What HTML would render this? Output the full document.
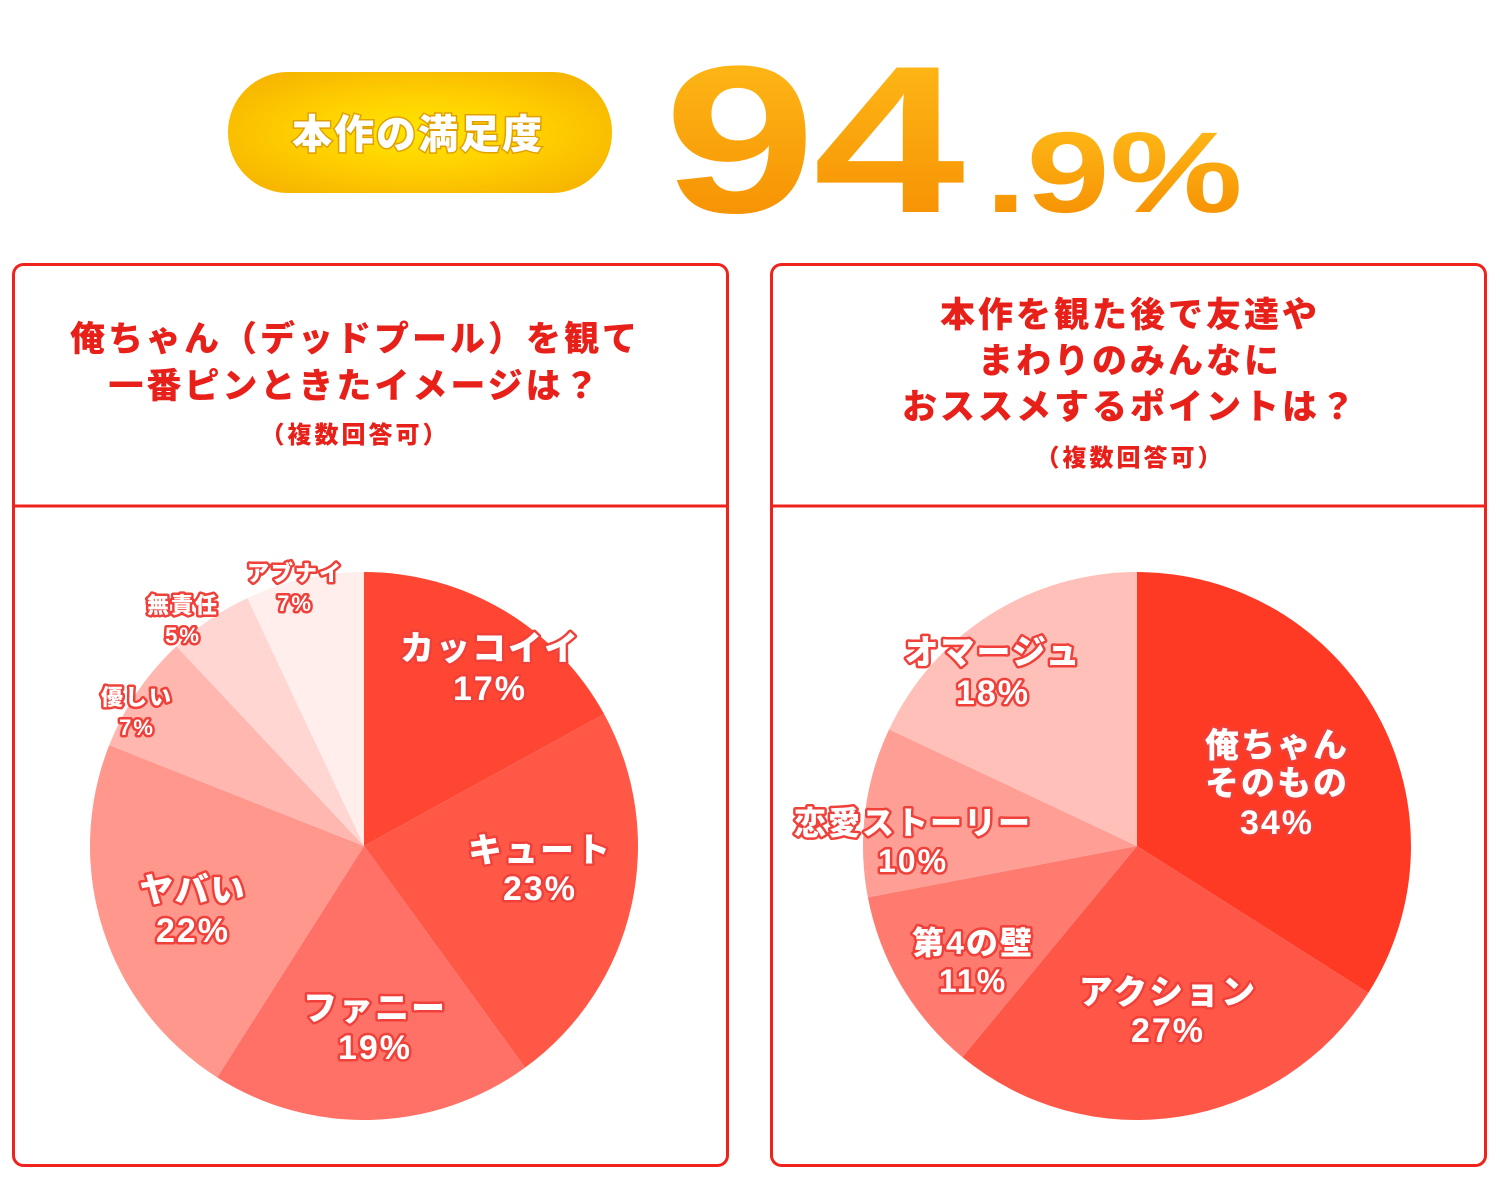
<!DOCTYPE html>
<html><head><meta charset="utf-8"><style>
html,body{margin:0;padding:0;background:#fff;width:1500px;height:1200px;overflow:hidden}
svg{display:block}
text{font-family:"Liberation Sans","Noto Sans CJK JP",sans-serif;font-weight:900}
</style></head><body>
<svg id="s" width="1500" height="1200" xmlns="http://www.w3.org/2000/svg">
<defs>
<radialGradient id="pill" cx="0.5" cy="0.5" r="0.6">
<stop offset="0" stop-color="#ffe600"/><stop offset="0.5" stop-color="#ffd000"/><stop offset="1" stop-color="#f7b600"/></radialGradient>
<linearGradient id="og" x1="0" y1="0" x2="0" y2="1">
<stop offset="0" stop-color="#ffbf1a"/><stop offset="1" stop-color="#f58a00"/></linearGradient>
</defs>
<rect x="228" y="72" width="384" height="121" rx="60" fill="url(#pill)"/>
<text x="418" y="148" font-size="40" text-anchor="middle" fill="#fff" stroke="#e0a000" stroke-width="3" paint-order="stroke" letter-spacing="2">本作の満足度</text>
<text transform="translate(664,212) scale(1.3,1)" font-size="210" fill="url(#og)" letter-spacing="-2">94</text>
<text transform="translate(985,212) scale(1.3,1)" font-size="115" fill="url(#og)">.9%</text>

<rect x="13.5" y="264.5" width="714" height="901" rx="10" fill="#fff" stroke="#f0231c" stroke-width="3"/>
<rect x="771.5" y="264.5" width="714" height="901" rx="10" fill="#fff" stroke="#f0231c" stroke-width="3"/>
<line x1="13" y1="506" x2="728" y2="506" stroke="#f0231c" stroke-width="3"/>
<line x1="771" y1="506" x2="1486" y2="506" stroke="#f0231c" stroke-width="3"/>

<g fill="#e8201a" text-anchor="middle" letter-spacing="3">
<text x="355" y="351" font-size="35">俺ちゃん（デッドプール）を観て</text>
<text x="355" y="398" font-size="35">一番ピンときたイメージは？</text>
<text x="355" y="443" font-size="24">（複数回答可）</text>
<text x="1130" y="327" font-size="35">本作を観た後で友達や</text>
<text x="1130" y="373" font-size="35">まわりのみんなに</text>
<text x="1130" y="419" font-size="35">おススメするポイントは？</text>
<text x="1130" y="466" font-size="24">（複数回答可）</text>
</g>
<g id="pies"></g>
<g id="labels" fill="#fff" stroke="#f0403a" stroke-width="5" stroke-linejoin="round" paint-order="stroke" text-anchor="middle" letter-spacing="2">
<text x="490" y="660" font-size="34">カッコイイ</text><text x="490" y="700" font-size="34">17%</text>
<text x="540" y="862" font-size="34">キュート</text><text x="540" y="900" font-size="34">23%</text>
<text x="375" y="1020" font-size="34">ファニー</text><text x="375" y="1059" font-size="34">19%</text>
<text x="193" y="902" font-size="34">ヤバい</text><text x="193" y="942" font-size="34">22%</text>
<text x="137" y="705" font-size="22">優しい</text><text x="137" y="735" font-size="22">7%</text>
<text x="183" y="613" font-size="22">無責任</text><text x="183" y="643" font-size="22">5%</text>
<text x="295" y="581" font-size="22">アブナイ</text><text x="295" y="611" font-size="22">7%</text>
<text x="1277" y="757" font-size="34">俺ちゃん</text><text x="1277" y="795" font-size="34">そのもの</text><text x="1277" y="834" font-size="34">34%</text>
<text x="1168" y="1004" font-size="34">アクション</text><text x="1168" y="1042" font-size="34">27%</text>
<text x="973" y="954" font-size="32">第4の壁</text><text x="973" y="992" font-size="32">11%</text>
<text x="913" y="834" font-size="32">恋愛ストーリー</text><text x="913" y="872" font-size="32">10%</text>
<text x="993" y="664" font-size="34">オマージュ</text><text x="993" y="704" font-size="34">18%</text>
</g>
</svg>
<script>
function pie(cx,cy,r,vals,cols){
 var g=document.getElementById('pies'),a=0,tot=vals.reduce(function(x,y){return x+y},0),out='';
 for(var i=0;i<vals.length;i++){
  var a2=a+vals[i]/tot*2*Math.PI;
  var x1=cx+r*Math.sin(a),y1=cy-r*Math.cos(a),x2=cx+r*Math.sin(a2),y2=cy-r*Math.cos(a2);
  out+='<path d="M'+cx+','+cy+'L'+x1+','+y1+'A'+r+','+r+' 0 '+((a2-a)>Math.PI?1:0)+' 1 '+x2+','+y2+'Z" fill="'+cols[i]+'"/>';
  a=a2;
 }
 g.innerHTML+=out;
}
pie(364,846,274,[17,23,19,22,7,5,7],['#fe4632','#ff5847','#ff7166','#ff978d','#ffb7b0','#ffd6d2','#ffeeec']);
pie(1137,846,274,[34,27,11,10,18],['#ff3a24','#ff5747','#ff7a6f','#ff9e95','#ffc0b9']);
var l=document.getElementById('labels');l.parentNode.appendChild(l);
</script>
</body></html>
